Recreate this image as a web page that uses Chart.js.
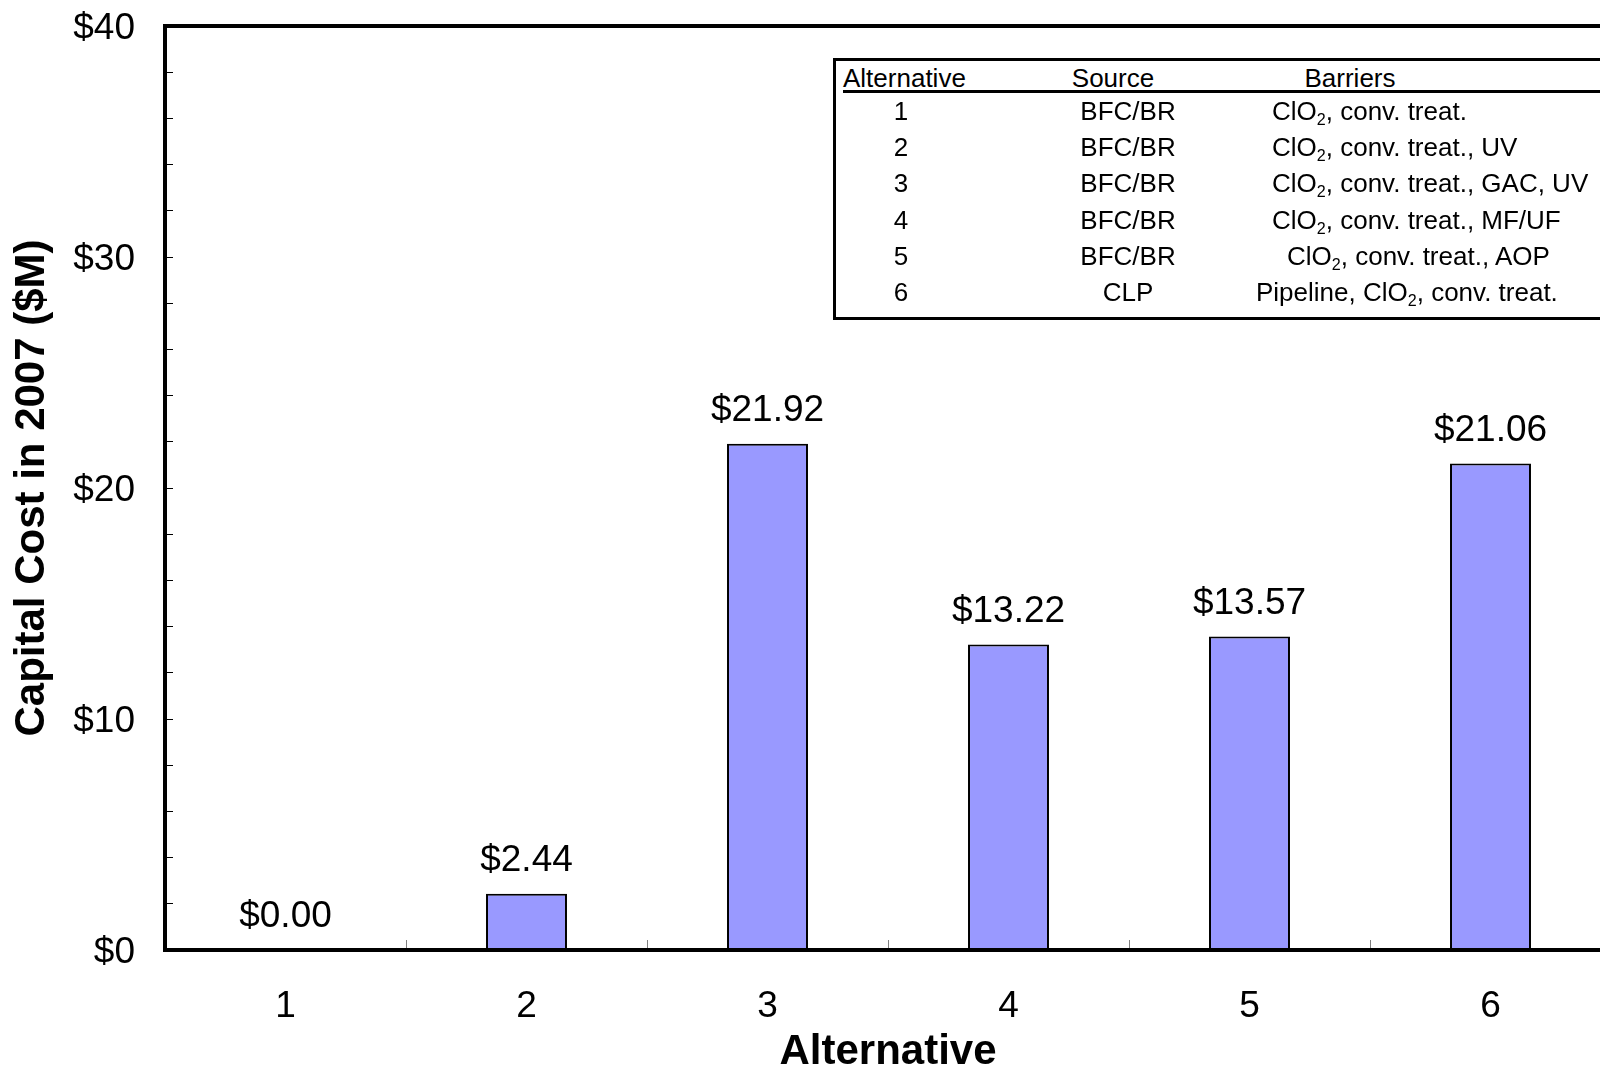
<!DOCTYPE html>
<html>
<head>
<meta charset="utf-8">
<title>Capital Cost by Alternative</title>
<script src="https://cdn.jsdelivr.net/npm/chart.js@4/dist/chart.umd.min.js"></script>
<style>
  html, body { margin: 0; padding: 0; background: #fff; overflow: hidden; }
  #wrap { position: relative; width: 1640px; height: 1071px; }
  #chart { position: absolute; left: 0; top: 0; }
  .legend-box {
    position: absolute; left: 833px; top: 58px; width: 800px; height: 262px;
    box-sizing: border-box; border: 3px solid #000; background: #fff;
  }
  .legend-rule { position: absolute; left: 843px; top: 90px; width: 800px; height: 3px; background: #000; }
  .cell {
    position: absolute; font-family: "Liberation Sans", Arial, sans-serif; font-size: 26px;
    line-height: 30px; height: 30px; color: #000; white-space: nowrap;
  }
  .cell.c { width: 240px; text-align: center; }
  .cell sub { font-size: 0.62em; vertical-align: -0.3em; line-height: 0; }
</style>
</head>
<body>
<div id="wrap">
  <canvas id="chart" width="1640" height="1071"></canvas>
  <div id="legend"></div>
</div>
<script>
// Capital cost of each treatment alternative, in millions of 2007 dollars
const categories = ['1', '2', '3', '4', '5', '6'];
const capitalCost = [0.00, 2.44, 21.92, 13.22, 13.57, 21.06];

// Alternative descriptions shown in the key table
const tableHeaders = ['Alternative', 'Source', 'Barriers'];
const altNumbers = ['1', '2', '3', '4', '5', '6'];
const altSources = ['BFC/BR', 'BFC/BR', 'BFC/BR', 'BFC/BR', 'BFC/BR', 'CLP'];
const altBarriers = [
  'ClO2, conv. treat.',
  'ClO2, conv. treat., UV',
  'ClO2, conv. treat., GAC, UV',
  'ClO2, conv. treat., MF/UF',
  'ClO2, conv. treat., AOP',
  'Pipeline, ClO2, conv. treat.'
];

// Y axis range and tick spacing ($M)
const yMin = 0, yMax = 40, yStep = 2, yLabelEvery = 10;

const FONT = '"Liberation Sans", Arial, sans-serif';

// Key table (HTML overlay on the plot)
(function buildKey() {
  const host = document.getElementById('legend');
  const html = [];
  html.push('<div class="legend-box"></div><div class="legend-rule"></div>');
  const rowTop = y => (y - 15) + 'px';
  html.push(`<div class="cell" style="left:843px;top:${rowTop(78)}">${tableHeaders[0]}</div>`);
  html.push(`<div class="cell c" style="left:${1113 - 120}px;top:${rowTop(78)}">${tableHeaders[1]}</div>`);
  html.push(`<div class="cell c" style="left:${1350 - 120}px;top:${rowTop(78)}">${tableHeaders[2]}</div>`);
  const barrierLeft = [1272, 1272, 1272, 1272, 1287, 1256];
  altNumbers.forEach((n, i) => {
    const cy = 111 + i * 36.2;
    html.push(`<div class="cell c" style="left:${901 - 120}px;top:${rowTop(cy)}">${n}</div>`);
    html.push(`<div class="cell c" style="left:${1128 - 120}px;top:${rowTop(cy)}">${altSources[i]}</div>`);
    const txt = altBarriers[i].replace(/ClO2/g, 'ClO<sub>2</sub>');
    html.push(`<div class="cell" style="left:${barrierLeft[i]}px;top:${rowTop(cy)}">${txt}</div>`);
  });
  host.innerHTML = html.join('');
})();

// Heavy black frame around the plot area
const frame = {
  id: 'frame',
  afterDatasetsDraw(chart) {
    const {ctx, chartArea: a} = chart;
    ctx.save();
    ctx.lineWidth = 4;
    ctx.strokeStyle = '#000';
    ctx.strokeRect(a.left, a.top, a.right - a.left, a.bottom - a.top);
    ctx.restore();
  }
};

// Dollar value printed above each bar
const valueLabels = {
  id: 'valueLabels',
  afterDatasetsDraw(chart) {
    const {ctx} = chart;
    const meta = chart.getDatasetMeta(0);
    const values = chart.data.datasets[0].data;
    ctx.save();
    ctx.font = `37px ${FONT}`;
    ctx.fillStyle = '#000';
    ctx.textAlign = 'center';
    ctx.textBaseline = 'middle';
    meta.data.forEach((bar, i) => {
      ctx.fillText('$' + values[i].toFixed(2), bar.x, bar.y - 33);
    });
    ctx.restore();
  }
};

new Chart(document.getElementById('chart'), {
  type: 'bar',
  data: {
    labels: categories,
    datasets: [{
      data: capitalCost,
      backgroundColor: '#9999FF',
      borderColor: '#000',
      borderWidth: 2,
      categoryPercentage: 1,
      barPercentage: 0.336
    }]
  },
  options: {
    responsive: false,
    animation: false,
    devicePixelRatio: 1,
    layout: { padding: { top: 26, right: 29, bottom: 0, left: 0 } },
    plugins: { legend: { display: false }, tooltip: { enabled: false } },
    scales: {
      x: {
        offset: true,
        border: { display: false },
        grid: {
          offset: true, drawOnChartArea: false, drawTicks: true,
          tickLength: -10, tickColor: '#808080', tickWidth: 1
        },
        ticks: { color: '#000', font: { family: FONT, size: 37 }, padding: 45, autoSkip: false, maxRotation: 0 },
        title: {
          display: true, text: 'Alternative', color: '#000',
          font: { family: FONT, size: 42, weight: 'bold', lineHeight: 1 }, padding: { top: 0, bottom: -2 }
        },
        afterFit(scale) { scale.height = 121; scale.paddingLeft = 0; scale.paddingRight = 0; }
      },
      y: {
        min: yMin, max: yMax,
        border: { display: false },
        grid: {
          drawOnChartArea: false, drawTicks: true,
          tickLength: -8, tickColor: '#000', tickWidth: 1
        },
        ticks: {
          stepSize: yStep, autoSkip: false, color: '#000',
          font: { family: FONT, size: 37 }, padding: 38, labelOffset: 3,
          callback: v => (v % yLabelEvery === 0 ? '$' + v : '')
        },
        title: {
          display: true, text: 'Capital Cost in 2007 ($M)', color: '#000',
          font: { family: FONT, size: 42, weight: 'bold' }, padding: { top: 7, bottom: 0 }
        },
        afterFit(scale) { scale.width = 165; scale.paddingTop = 0; scale.paddingBottom = 0; }
      }
    }
  },
  plugins: [frame, valueLabels]
});
</script>
</body>
</html>
